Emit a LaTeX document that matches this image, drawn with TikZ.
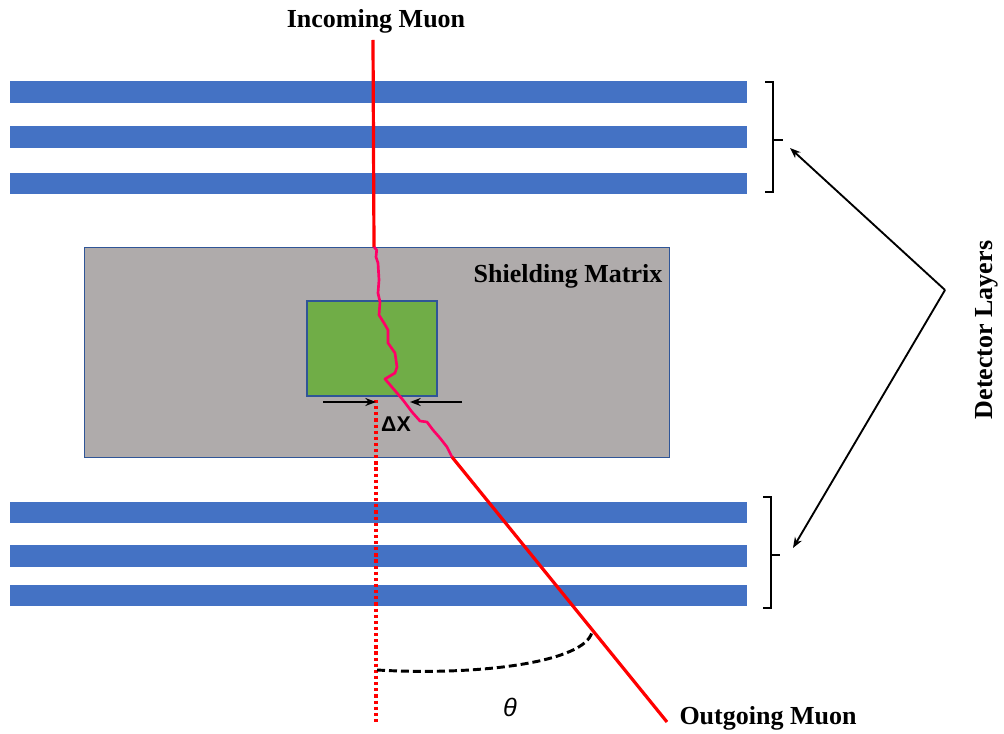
\documentclass[tikz,border=0pt]{standalone}
\usepackage{fontspec}
\setmainfont{Liberation Serif}
\setsansfont{Liberation Sans}
\usetikzlibrary{arrows.meta}
\definecolor{barblue}{HTML}{4472C4}
\definecolor{edgeblue}{HTML}{2F5597}
\definecolor{shieldgray}{HTML}{AFABAB}
\definecolor{targetgreen}{HTML}{70AD47}
\definecolor{trackpink}{HTML}{FF0066}
\tikzset{
  lbl/.style={font=\fontsize{19.5}{23}\selectfont\bfseries, inner sep=0pt},
  bar/.style={fill=barblue, draw=none},
  muon/.style={red, line width=2.4pt},
  scatter/.style={trackpink, line width=2pt, line join=round},
  pointer/.style={-{Stealth[length=8pt,width=6pt]}, line width=1.4pt},
  bracket/.style={line width=2pt}
}
\begin{document}
\begin{tikzpicture}[x=0.75pt, y=-0.75pt]
  \useasboundingbox (0,0) rectangle (1004,734);
  \foreach \t/\b in {81/103, 126/148, 173/194, 502/523, 545/567, 585/606}
    \fill[bar] (10,\t) rectangle (747,\b);
  \filldraw[fill=shieldgray, draw=edgeblue, line width=0.6pt] (84,247) rectangle (669,457);
  \filldraw[fill=targetgreen, draw=edgeblue, line width=0.9pt] (307,301) rectangle (437,396);
  \node[lbl] (shield) at (568,276) {Shielding Matrix};
  \node[lbl] (incoming) at (376,21) {Incoming Muon};
  \node[lbl] (outgoing) at (768,718) {Outgoing Muon};
  \node[lbl, rotate=90] (layers) at (987,330) {Detector Layers};
  \coordinate (entry) at (374,247);
  \coordinate (exit) at (452,457);
  \coordinate (far) at (667,722);
  \draw[muon] (373,40) -- (entry);
  \draw[scatter] (entry) -- (376.7,250) -- (376,257) -- (378,263) -- (379,280) -- (378,293)
    -- (380,302) -- (379,315) -- (384,323) -- (388,330) -- (388,343) -- (395,353)
    -- (397,367) -- (395,373) -- (385,379) -- (397,393) -- (403,400) -- (412,412)
    -- (420,421) -- (427,422) -- (433,430) -- (440,438) -- (447,447) -- (exit);
  \draw[muon] (exit) -- (far);
  \draw[red, line width=2.8pt, dash pattern=on 2.4pt off 2.2pt] (376,400) -- (376,725);
  \coordinate (dxl) at (376,402);
  \coordinate (dxr) at (410,402);
  \draw[pointer] (323,402) -- (dxl);
  \draw[pointer] (462,402) -- (dxr);
  \node[font=\sffamily\bfseries\fontsize{16}{19}\selectfont] (dx) at (396,424) {ΔX};
  \coordinate (arcstart) at (377,670);
  \coordinate (arcend) at (592,632);
  \draw[line width=2.2pt, dash pattern=on 6pt off 3pt] (arcstart) .. controls (480,676) and (585,662) .. (arcend);
  \node[font=\sffamily\itshape\fontsize{19}{22}\selectfont] (theta) at (510,707) {θ};
  \draw[bracket] (765,82) -- (773,82) -- (773,192) -- (765,192);
  \draw[bracket] (773,140) -- (783,140);
  \draw[bracket] (763,497) -- (771,497) -- (771,608) -- (763,608);
  \draw[bracket] (771,555) -- (780,555);
  \coordinate (apex) at (945,290);
  \coordinate (toptip) at (790,148);
  \coordinate (bottip) at (793,548);
  \draw[pointer] (apex) -- (toptip);
  \draw[pointer] (apex) -- (bottip);
\end{tikzpicture}
\end{document}
